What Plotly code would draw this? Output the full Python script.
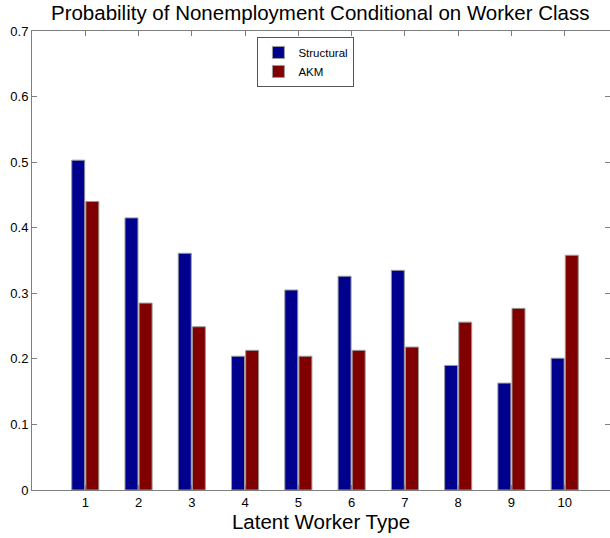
import plotly.graph_objects as go

worker_types = [1, 2, 3, 4, 5, 6, 7, 8, 9, 10]
structural = [0.503, 0.415, 0.361, 0.204, 0.305, 0.326, 0.335, 0.190, 0.163, 0.201]
akm = [0.440, 0.285, 0.249, 0.213, 0.204, 0.213, 0.218, 0.256, 0.277, 0.358]

fig = go.Figure()

fig.add_trace(go.Bar(
    x=worker_types, y=structural, name="Structural",
    marker=dict(color="#00008F", line=dict(color="#9a9a9a", width=1))
))
fig.add_trace(go.Bar(
    x=worker_types, y=akm, name="AKM",
    marker=dict(color="#800000", line=dict(color="#9a9a9a", width=1))
))

axis_style = dict(
    showline=True, linecolor="#7f7f7f", linewidth=1, mirror="ticks",
    ticks="inside", ticklen=5, tickcolor="#7f7f7f",
    showgrid=False, zeroline=False, automargin=False,
    tickfont=dict(family="Arial", size=13, color="black")
)

fig.update_layout(
    width=610, height=538,
    margin=dict(l=32, r=0, t=31, b=48),
    paper_bgcolor="white", plot_bgcolor="white",
    barmode="group", bargap=0.47, bargroupgap=0.08,
    font=dict(family="Arial", color="black"),
    title=dict(text="Probability of Nonemployment Conditional on Worker Class",
               x=0.525, xanchor="center", y=0.977, yanchor="middle",
               font=dict(family="Arial", size=20.5, color="black")),
    xaxis=dict(range=[0, 10.85], tickvals=worker_types,
               title=dict(text="Latent Worker Type", standoff=4,
                          font=dict(family="Arial", size=20.5, color="black")),
               **axis_style),
    yaxis=dict(range=[0, 0.7], tickvals=[0, 0.1, 0.2, 0.3, 0.4, 0.5, 0.6, 0.7],
               ticktext=["0", "0.1", "0.2", "0.3", "0.4", "0.5", "0.6", "0.7"],
               **axis_style),
    legend=dict(x=0.39, y=0.987, xanchor="left", yanchor="top",
                bgcolor="white", bordercolor="#555555", borderwidth=1,
                font=dict(family="Arial", size=11.5, color="black"),
                tracegroupgap=0, itemwidth=30),
)

fig.write_html("out.html", config={"displayModeBar": False},
               post_script="document.body.style.margin='0';")
